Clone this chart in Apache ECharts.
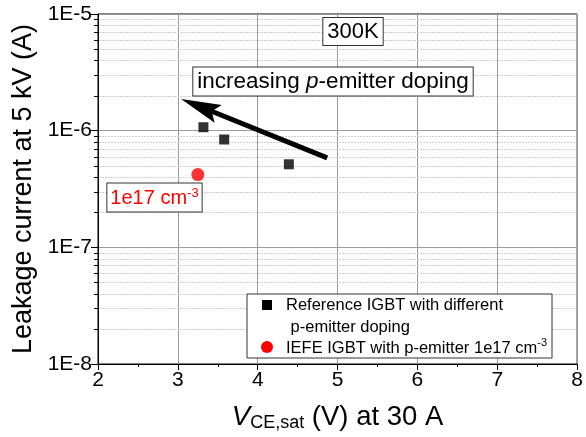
<!DOCTYPE html>
<html><head><meta charset="utf-8">
<script src="https://cdn.jsdelivr.net/npm/echarts@6/dist/echarts.min.js"></script>
<style>html,body{margin:0;padding:0;background:#fff}#c{width:586px;height:437px}</style>
</head><body><div id="c"></div>
<script>
// ---- data ----
const xTickValues = [2, 3, 4, 5, 6, 7, 8];
const yTickLabels = ['1E-8', '1E-7', '1E-6', '1E-5'];
const refVce = [3.32, 3.58, 4.39];
const refLeak = [1.07e-6, 0.84e-6, 0.515e-6];
const iefeVce = [3.25];
const iefeLeak = [4.2e-7];
const arrowFrom = [4.87, 5.85e-7];
const arrowTo = [3.04, 1.87e-6];
const seriesNames = ['Reference IGBT with different p-emitter doping', 'IEFE IGBT with p-emitter 1e17 cm-3'];

const FONT = '"Liberation Sans", Arial, sans-serif';
const minorY = [];
[-8, -7, -6].forEach(e => { for (let m = 2; m <= 9; m++) minorY.push(m * Math.pow(10, e)); });

const chart = echarts.init(document.getElementById('c'), null, {renderer: 'canvas'});
const option = {
  backgroundColor: '#fff',
  animation: false,
  textStyle: {fontFamily: FONT},
  grid: {left: 98, right: 6, top: 14, bottom: 73, show: true, borderColor: '#000', borderWidth: 1, backgroundColor: 'transparent'},
  xAxis: {
    type: 'value', min: xTickValues[0], max: xTickValues[xTickValues.length - 1], interval: 1,
    axisLine: {lineStyle: {color: '#000', width: 1}},
    axisTick: {show: true, inside: false, length: 6, lineStyle: {color: '#000'}},
    minorTick: {show: true, splitNumber: 2, length: 3, lineStyle: {color: '#000'}},
    splitLine: {show: true, lineStyle: {color: '#9a9a9a', width: 1}},
    axisLabel: {color: '#000', fontSize: 21, fontFamily: FONT, margin: 6},
    name: '{i|V}{sub|CE,sat}{n| (V) at 30 A}',
    nameLocation: 'middle', nameGap: 38,
    nameTextStyle: {
      rich: {
        i: {fontSize: 27.5, fontStyle: 'italic', fontFamily: FONT, color: '#000'},
        sub: {fontSize: 18, fontFamily: FONT, color: '#000', padding: [12, 0, 0, 0]},
        n: {fontSize: 27.5, fontFamily: FONT, color: '#000'}
      }
    }
  },
  yAxis: {
    type: 'log', logBase: 10, min: 1e-8, max: 1e-5,
    axisLine: {show: true, lineStyle: {color: '#000', width: 1}},
    axisTick: {show: true, inside: false, length: 7, lineStyle: {color: '#000'}},
    splitLine: {show: true, lineStyle: {color: '#9a9a9a', width: 1}},
    axisLabel: {color: '#000', fontSize: 21, fontFamily: FONT, margin: 6,
      formatter: v => yTickLabels[Math.round(Math.log10(v)) + 8]},
    name: 'Leakage current at 5 kV (A)',
    nameLocation: 'middle', nameGap: 60, nameRotate: 90,
    nameTextStyle: {fontSize: 27, color: '#000', fontFamily: FONT}
  },
  series: [
    {
      name: seriesNames[0], type: 'scatter', symbol: 'rect', symbolSize: 10,
      itemStyle: {color: '#000'},
      data: refVce.map((x, i) => [x, refLeak[i]]),
      z: 5
    },
    {
      name: seriesNames[1], type: 'scatter', symbol: 'circle', symbolSize: 13,
      itemStyle: {color: '#ff0000'},
      data: iefeVce.map((x, i) => [x, iefeLeak[i]]),
      z: 5
    }
  ]
};
chart.setOption(option);

// minor ticks + minor grid lines on the log axis, placed via the axis scale
const gx0 = chart.convertToPixel({xAxisIndex: 0}, xTickValues[0]);
const gx1 = chart.convertToPixel({xAxisIndex: 0}, xTickValues[xTickValues.length - 1]);
const minorGraphics = [];
minorY.forEach(v => {
  const py = Math.round(chart.convertToPixel({yAxisIndex: 0}, v)) + 0.5;
  minorGraphics.push({type: 'line', shape: {x1: gx0 - 4, y1: py, x2: gx0, y2: py}, style: {stroke: '#000', lineWidth: 1}, silent: true, z: 10});
  minorGraphics.push({type: 'line', shape: {x1: gx0 + 1, y1: py, x2: gx1 - 1, y2: py}, style: {stroke: '#cfcfcf', lineWidth: 1, lineDash: [2, 1]}, silent: true, z: 1});
});

// arrow annotation
const pFrom = chart.convertToPixel({xAxisIndex: 0, yAxisIndex: 0}, arrowFrom);
const pTo = chart.convertToPixel({xAxisIndex: 0, yAxisIndex: 0}, arrowTo);
const dx = pTo[0] - pFrom[0], dy = pTo[1] - pFrom[1];
const L = Math.hypot(dx, dy), ux = dx / L, uy = dy / L, nx = -uy, ny = ux;
const HL = 40, HW = 9.5, NOTCH = 33;
const arrowGraphics = [
  {type: 'line', z: 15, shape: {x1: pFrom[0], y1: pFrom[1], x2: pTo[0] - ux * NOTCH, y2: pTo[1] - uy * NOTCH}, style: {stroke: '#000', lineWidth: 5}},
  {type: 'polygon', z: 15, shape: {points: [
    [pTo[0], pTo[1]],
    [pTo[0] - ux * HL + nx * HW, pTo[1] - uy * HL + ny * HW],
    [pTo[0] - ux * NOTCH, pTo[1] - uy * NOTCH],
    [pTo[0] - ux * HL - nx * HW, pTo[1] - uy * HL - ny * HW]
  ]}, style: {fill: '#000'}}
];

const legendGraphics = [
  {type: 'rect', shape: {x: 247, y: 294, width: 305, height: 64}, style: {fill: '#fff', stroke: '#333', lineWidth: 1}, z: 20},
  {type: 'rect', shape: {x: 262, y: 300, width: 10, height: 10}, style: {fill: '#000'}, z: 21},
  {type: 'circle', shape: {cx: 267, cy: 347, r: 6}, style: {fill: '#ff0000'}, z: 21},
  {type: 'text', x: 286, y: 305, z: 21, style: {text: 'Reference IGBT with different', fontSize: 16.5, fontFamily: FONT, fill: '#000', verticalAlign: 'middle'}},
  {type: 'text', x: 286, y: 327, z: 21, style: {text: ' p-emitter doping', fontSize: 16.5, fontFamily: FONT, fill: '#000', verticalAlign: 'middle'}},
  {type: 'text', x: 286, y: 348, z: 21, style: {
    text: '{a|IEFE IGBT with p-emitter 1e17 cm}{s|-3}', verticalAlign: 'middle',
    rich: {a: {fontSize: 16.5, fontFamily: FONT, fill: '#000'}, s: {fontSize: 11, fontFamily: FONT, fill: '#000', padding: [0, 0, 10, 0]}}
  }}
];

const annoGraphics = [
  {type: 'text', x: 353, y: 31.5, z: 22, style: {
    text: '300K', fontSize: 22, fontFamily: FONT, fill: '#000', align: 'center', verticalAlign: 'middle',
    backgroundColor: '#fff', borderColor: '#333', borderWidth: 1, padding: [3, 4, 2, 4]}},
  {type: 'text', x: 333, y: 81.5, z: 22, style: {
    text: '{n|increasing }{i|p}{n|-emitter doping}', align: 'center', verticalAlign: 'middle',
    backgroundColor: '#fff', borderColor: '#333', borderWidth: 1, padding: [3, 4, 2, 4],
    rich: {n: {fontSize: 22.5, fontFamily: FONT, fill: '#000'}, i: {fontSize: 22.5, fontFamily: FONT, fontStyle: 'italic', fill: '#000'}}}},
  {type: 'text', x: 154.5, y: 197.5, z: 22, style: {
    text: '{a|1e17 cm}{s|-3}', align: 'center', verticalAlign: 'middle',
    backgroundColor: '#fff', borderColor: '#333', borderWidth: 1, padding: [3, 3, 2, 3],
    rich: {a: {fontSize: 20, fontFamily: FONT, fill: '#ff0000'}, s: {fontSize: 13, fontFamily: FONT, fill: '#ff0000', padding: [0, 0, 10, 0]}}}}
];

chart.setOption({graphic: minorGraphics.concat(arrowGraphics, legendGraphics, annoGraphics)});
</script>
</body></html>
